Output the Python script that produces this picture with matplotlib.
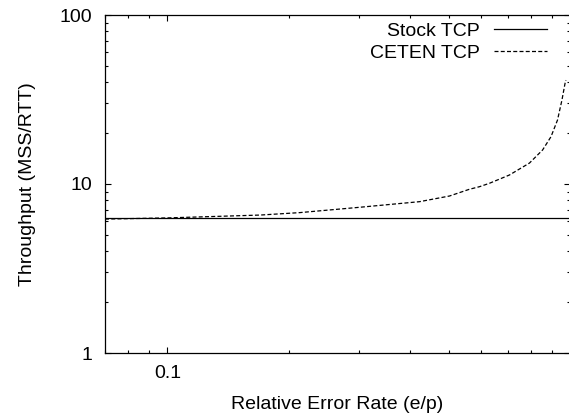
import matplotlib.pyplot as plt
from matplotlib.ticker import FixedLocator, LogLocator, NullFormatter

plt.rcParams['font.family'] = ['Liberation Sans', 'DejaVu Sans']

# relative error rate e/p on the x axis
error_rate = [0.07, 0.10, 0.17, 0.213, 0.30, 0.423, 0.502, 0.562, 0.596,
              0.631, 0.707, 0.793, 0.855, 0.897, 0.931, 0.955, 0.972, 0.977]
# CETEN TCP throughput (MSS/RTT)
ceten_tput = [6.2, 6.3, 6.55, 6.77, 7.28, 7.86, 8.49, 9.30, 9.64,
              10.1, 11.3, 13.3, 15.9, 19.05, 23.9, 31.4, 39.4, 41.2]
# stock TCP throughput stays flat
stock_x = [0.07, 1.0]
stock_tput = [6.25, 6.25]

FS = 14

fig = plt.figure(figsize=(5.69, 4.17), dpi=100)
ax = fig.add_axes([105 / 569, 64 / 417, 465 / 569, 338 / 417])

ax.plot(stock_x, stock_tput, color='black', linewidth=0.9, label='Stock TCP')
ax.plot(error_rate, ceten_tput, color='black', linewidth=0.9,
        dashes=(3.2, 1.8), label='CETEN TCP')

ax.set_xscale('log')
ax.set_yscale('log')
ax.set_xlim(0.07, 1.0)
ax.set_ylim(1, 100)

ax.xaxis.set_major_locator(FixedLocator([0.1]))
ax.set_xticklabels(['0.1'])
ax.xaxis.set_minor_locator(LogLocator(subs=range(2, 10)))
ax.xaxis.set_minor_formatter(NullFormatter())
ax.yaxis.set_major_locator(FixedLocator([1, 10, 100]))
ax.set_yticklabels(['1', '10', '100'])
ax.yaxis.set_minor_locator(LogLocator(subs=range(2, 10)))
ax.yaxis.set_minor_formatter(NullFormatter())

ax.tick_params(which='both', direction='in', top=True, right=True,
               labelsize=FS, width=0.8)
ax.tick_params(which='major', length=4)
ax.tick_params(which='minor', length=2.2)
ax.tick_params(axis='x', which='major', pad=9)
ax.tick_params(axis='y', which='major', pad=9)
for s in ax.spines.values():
    s.set_linewidth(0.9)

ax.set_xlabel('Relative Error Rate (e/p)', fontsize=FS, labelpad=10)
ax.set_ylabel('Throughput (MSS/RTT)', fontsize=FS, labelpad=17)

leg = ax.legend(loc='upper right', bbox_to_anchor=(547 / 569, 1 - 22 / 417),
                bbox_transform=fig.transFigure, frameon=False, markerfirst=False,
                fontsize=FS, handlelength=2.7, handletextpad=0.75,
                labelspacing=0.25, borderpad=0, borderaxespad=0)

fig.savefig('out.png', dpi=100)
